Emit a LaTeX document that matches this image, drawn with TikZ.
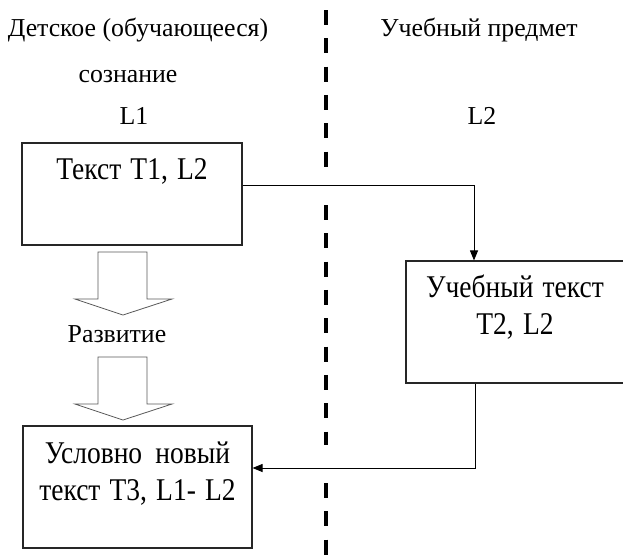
\documentclass[tikz,border=0pt]{standalone}
\usepackage{fontspec}
\setmainfont{Liberation Serif}
\usepackage{graphicx}
\usetikzlibrary{arrows.meta}
\newcommand{\tallline}[1]{\scalebox{1}[1.15]{#1}}

\begin{document}
\begin{tikzpicture}[x = 1pt, y = -1pt,
  lbl/.style = {font = \fontsize{25.8}{30}\selectfont, inner sep = 0pt, anchor = base},
  box/.style = {draw = black!85, line width = 1.1pt, inner sep = 0pt, align = center,
    font = \fontsize{27.5}{37.5}\selectfont},
  conn/.style = {line width = 0.9pt, -{Triangle[length = 10pt, width = 8pt]}},
  barrow/.style = {draw = black!65, fill = white, line width = 0.8pt},
  divider/.style = {line width = 4pt, dash pattern = on 15pt off 13.33pt}]
\useasboundingbox (0,0) rectangle (623,555);
\draw [divider] (325.5,10) -- (325.5,167);
\draw [divider] (325.5,205) -- (325.5,445);
\draw [divider] (325.5,483) -- (325.5,555);
\node [lbl] (child) at (138,36) {Детское (обучающееся)};
\node [lbl] (mind) at (128,82) {сознание};
\node [lbl] (lone) at (134,124) {L1};
\node [lbl] (subj) at (479,36) {Учебный предмет};
\node [lbl] (ltwo) at (482,124) {L2};
\node [box, text width = 220pt, text height = 36pt, text depth = 66pt] (t1) at (132,194)
  {\tallline{Текст T1, L2}};
\node [box, text width = 218pt, text height = 36pt, text depth = 86pt] (t2) at (515,322)
  {\tallline{Учебный текст}\\\tallline{T2, L2}};
\node [box, text width = 229pt, text height = 37pt, text depth = 85pt] (t3) at (137.5,487)
  {\tallline{Условно\hspace{4pt} новый}\\\tallline{текст T3, L1- L2}};
\foreach \dy in {0,105}
  \draw [barrow, shift = {(0,\dy)}] (98,252) -- (147,252) -- (147,299) -- (172,299)
    -- (123,315) -- (75,299) -- (98,299) -- cycle;
\node [lbl] (dev) at (117,342.7) {Развитие};
\draw [conn] ([yshift = 9pt]t1.east) -| ([xshift = -41pt]t2.north);
\draw [conn] ([xshift = -39.5pt]t2.south) |- ([yshift = 19pt]t3.east);
\end{tikzpicture}
\end{document}
